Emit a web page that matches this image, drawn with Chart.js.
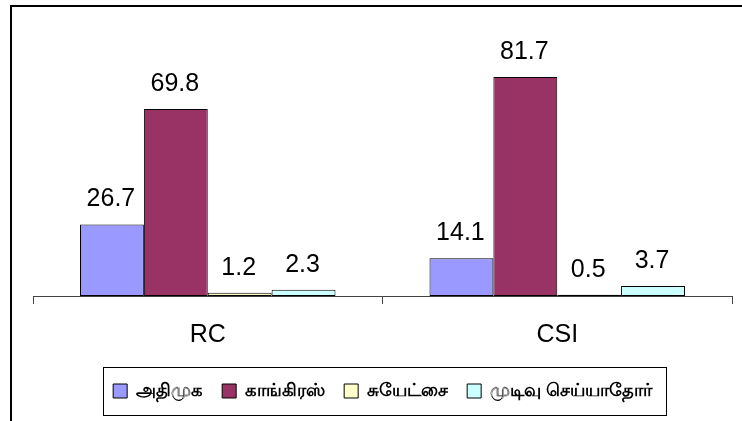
<!DOCTYPE html>
<html>
<head>
<meta charset="utf-8">
<script src="https://cdn.jsdelivr.net/npm/chart.js@4/dist/chart.umd.min.js"></script>
<style>
  body { margin: 0; background: #fff; }
  #wrap { position: relative; width: 742px; height: 421px; overflow: hidden; }
  #frame { position: absolute; left: 10px; top: 5px; width: 800px; height: 500px;
           border-top: 2px solid #000; border-left: 2px solid #000; pointer-events: none; }
</style>
</head>
<body>
<div id="wrap">
  <canvas id="chart" width="742" height="421"></canvas>
  <div id="frame"></div>
</div>
<script>
const categories = ['RC', 'CSI'];
const seriesNames = ['அதிமுக', 'காங்கிரஸ்', 'சுயேட்சை', 'முடிவு செய்யாதோர்'];
const admk = [26.7, 14.1];
const congress = [69.8, 81.7];
const independent = [1.2, 0.5];
const undecided = [2.3, 3.7];
const colors = ['#9999FF', '#993366', '#FFFFCC', '#CCFFFF'];

const series = [admk, congress, independent, undecided];

// value labels above the bars
const valueLabels = {
  id: 'valueLabels',
  afterDatasetsDraw(chart) {
    const ctx = chart.ctx;
    ctx.save();
    ctx.font = '25px "Liberation Sans", Arial, sans-serif';
    ctx.fillStyle = '#000';
    ctx.textAlign = 'center';
    ctx.textBaseline = 'alphabetic';
    chart.data.datasets.forEach((ds, i) => {
      chart.getDatasetMeta(i).data.forEach((bar, j) => {
        ctx.fillText(ds.data[j].toFixed(1), bar.x - 1, bar.y - 18);
      });
    });
    ctx.restore();
  }
};

// box round the legend
const legendBox = {
  id: 'legendBox',
  afterDraw(chart) {
    const boxes = chart.legend.legendHitBoxes;
    if (!boxes || !boxes.length) return;
    const first = boxes[0], last = boxes[boxes.length - 1];
    const cy = first.top + first.height / 2;
    const ctx = chart.ctx;
    ctx.save();
    ctx.strokeStyle = '#000';
    ctx.lineWidth = 1;
    ctx.strokeRect(Math.round(first.left - 10) + 0.5, Math.round(cy - 24) + 0.5,
                   Math.round(last.left + last.width + 14 - first.left + 10), 48);
    ctx.restore();
  }
};

new Chart(document.getElementById('chart'), {
  type: 'bar',
  data: {
    labels: categories,
    datasets: series.map((values, i) => ({
      label: seriesNames[i],
      data: values,
      backgroundColor: colors[i],
      borderColor: '#000',
      borderWidth: 1,
      borderSkipped: false,
      categoryPercentage: 0.731,
      barPercentage: 1
    }))
  },
  options: {
    responsive: false,
    animation: false,
    devicePixelRatio: 1,
    layout: { padding: { left: 33, right: 10, top: 28, bottom: 11 } },
    plugins: {
      tooltip: { enabled: false },
      legend: {
        position: 'bottom',
        labels: {
          boxWidth: 14,
          boxHeight: 14,
          padding: 19,
          color: '#000',
          font: { size: 18, weight: 'bold', family: '"Noto Sans", sans-serif' }
        }
      }
    },
    scales: {
      x: {
        border: { display: true, color: '#444', width: 1 },
        grid: { display: true, drawOnChartArea: false, drawTicks: true, tickLength: 8, color: '#444' },
        ticks: { color: '#000', padding: 16, font: { size: 25, family: '"Liberation Sans", Arial, sans-serif' } },
        afterFit(scale) { scale.height = 67; }
      },
      y: {
        display: false,
        min: 0,
        max: 100
      }
    }
  },
  plugins: [valueLabels, legendBox]
});
</script>
</body>
</html>
